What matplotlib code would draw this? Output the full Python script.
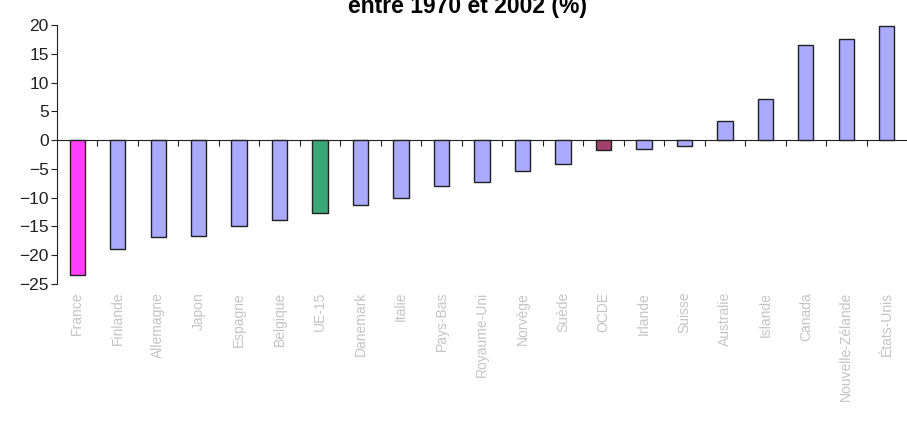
import matplotlib.pyplot as plt
import matplotlib.transforms as mtransforms

# --- Données ---
pays = ['France', 'Finlande', 'Allemagne', 'Japon', 'Espagne', 'Belgique',
        'UE-15', 'Danemark', 'Italie', 'Pays-Bas', 'Royaume-Uni', 'Norvège',
        'Suède', 'OCDE', 'Irlande', 'Suisse', 'Australie', 'Islande',
        'Canada', 'Nouvelle-Zélande', 'États-Unis']
variation = [-23.5, -19.0, -16.9, -16.7, -15.0, -13.9, -12.7, -11.2, -10.0,
             -7.9, -7.3, -5.4, -4.1, -1.7, -1.5, -1.0, 3.3, 7.2, 16.6, 17.6, 19.9]

couleur_defaut = '#aaaaff'
couleurs_speciales = {'France': '#ff40ff', 'UE-15': '#3da677', 'OCDE': '#a3406b'}
couleurs = [couleurs_speciales.get(p, couleur_defaut) for p in pays]

plt.rcParams['font.family'] = ['Liberation Sans', 'DejaVu Sans']

fig = plt.figure(figsize=(9.07, 4.37), dpi=100)
ax = fig.add_axes([57 / 907, 1 - 284 / 437, 1 - 57 / 907, (284 - 25) / 437])

x = list(range(len(pays)))
ax.bar(x, variation, width=0.38, color=couleurs, edgecolor='#202020', linewidth=1.0, zorder=3)

ax.set_xlim(-0.5, len(pays) - 0.5)
ax.set_ylim(-25, 20)
ax.set_yticks(range(-25, 21, 5))
ax.tick_params(axis='y', labelsize=12.5, colors='#202020', length=4, width=0.8, pad=2)

# axe des x à zéro, graduations entre les catégories
ax.spines['top'].set_visible(False)
ax.spines['right'].set_visible(False)
ax.spines['bottom'].set_position(('data', 0))
ax.spines['bottom'].set_color('#202020')
ax.spines['left'].set_color('#202020')
ax.set_xticks([i + 0.5 for i in range(len(pays) - 1)])
ax.set_xticklabels([])
ax.tick_params(axis='x', direction='out', length=4, width=0.8, colors='#202020')

# étiquettes des pays sous le graphique
trans = mtransforms.blended_transform_factory(ax.transData, ax.transAxes)
for i, p in enumerate(pays):
    ax.text(i, -0.03, p, transform=trans, rotation=90, ha='center', va='top',
            fontsize=10, color='#c4c4c4')

# titre (première ligne coupée par le bord de l'image)
fig.text(468 / 907, 1 - 12.5 / 437, 'entre 1970 et 2002 (%)', ha='center', va='baseline',
         fontsize=16.5, fontweight='bold', color='#000000')

fig.savefig('out.png', dpi=100)
